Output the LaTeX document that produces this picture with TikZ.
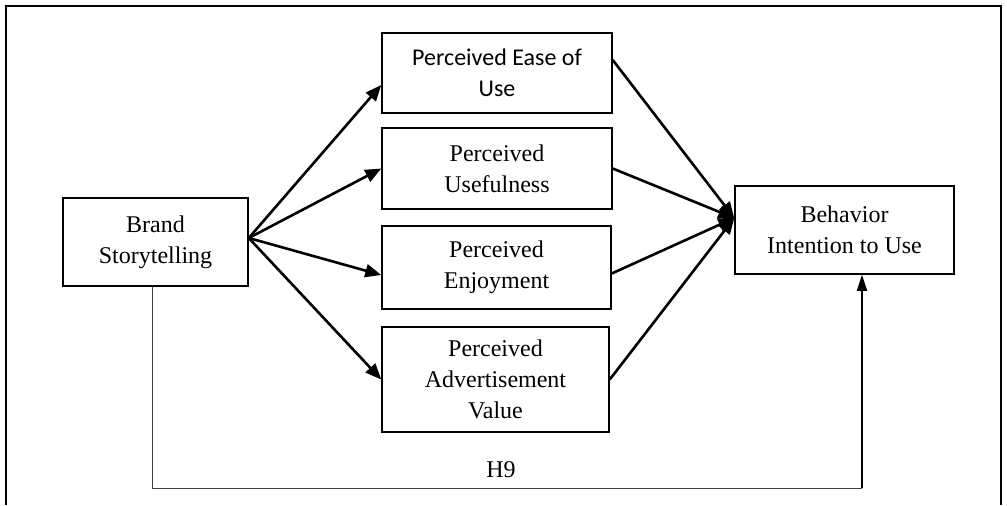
\documentclass[tikz,border=0pt]{standalone}
\usepackage{fontspec}
\setmainfont{Liberation Serif}
\newfontfamily\calibrifont{Carlito}
\usetikzlibrary{arrows.meta,positioning,calc}

\begin{document}
\begin{tikzpicture}[x=0.5pt,y=-0.5pt,
    construct/.style={draw=black, line width=0.75pt, align=center, inner sep=0pt,
        font=\fontsize{12}{15.5}\selectfont},
    hyparrow/.style={-{Triangle[length=8pt,width=6.5pt]}, line width=1.3pt}]
    \useasboundingbox (0,0) rectangle (1007,505);
    % open frame
    \draw[line width=1pt] (6,505) -- (6,6) -- (1001,6) -- (1001,505);

    \node[construct, minimum width=92.5pt, minimum height=44pt] (bs) at (155.5,242) {Brand\\Storytelling};
    \node[construct, minimum width=115pt, minimum height=40pt,
        font=\calibrifont\fontsize{12}{15.5}\selectfont] (peou) at (497,73) {Perceived Ease of\\Use};
    \node[construct, minimum width=115pt, minimum height=40.5pt] (pu) at (497,168.5) {Perceived\\Usefulness};
    \node[construct, minimum width=114.5pt, minimum height=41.5pt] (pe) at (496.5,267.5) {Perceived\\Enjoyment};
    \node[construct, minimum width=113.5pt, minimum height=52.5pt] (pav) at (495.5,379.5) {Perceived\\Advertisement\\Value};
    \node[construct, minimum width=109.5pt, minimum height=44pt] (biu) at (844.5,230) {Behavior\\Intention to Use};

    \coordinate (corner) at (862,488);

    \foreach \n/\a/\b in {peou/-6/6.5, pu/0/0, pe/-3.75/-3, pav/0/0}
    {
        \draw[hyparrow] ([yshift=2pt]bs.east) -- ([yshift=\a pt]\n.west);
        \draw[hyparrow] ([yshift=\b pt]\n.east) -- ([yshift=6pt]biu.west);
    };

    % direct path H9
    \draw[line width=0.5pt, black!75] ([xshift=-1.75pt]bs.south) |- (corner);
    \draw[-{Triangle[length=8pt,width=5pt]}, line width=1pt] (corner) -- (corner |- biu.south);
    \node (h9) at (501,470) {\fontsize{12}{15.5}\selectfont H9};
\end{tikzpicture}
\end{document}
